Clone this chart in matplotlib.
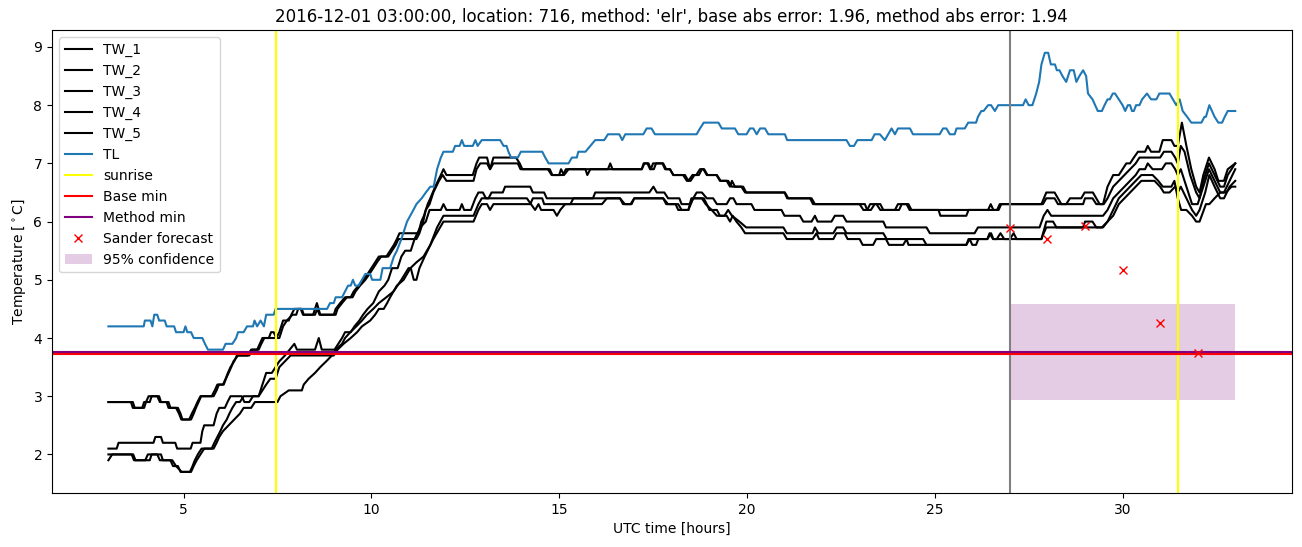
import numpy as np
import matplotlib
matplotlib.use("Agg")
import matplotlib.pyplot as plt

title = "2016-12-01 03:00:00, location: 716, method: 'elr', base abs error: 1.96, method abs error: 1.94"

# (hour, temperature) breakpoints
tw1 = [(3.0,2.9),(3.6,2.9),(3.65,2.8),(3.95,2.8),(4.0,2.9),(4.07,3.0),(4.3,3.0),(4.37,2.9),(4.55,2.9),(4.6,2.8),(4.85,2.8),(4.92,2.7),(4.97,2.6),(5.2,2.6),(5.27,2.7),(5.33,2.8),(5.4,2.9),(5.47,3.0),(5.8,3.0),(5.88,3.1),(5.94,3.2),(6.07,3.2),(6.13,3.3),(6.2,3.4),(6.27,3.5),(6.33,3.6),(6.45,3.7),(6.75,3.7),(6.83,3.8),(6.96,3.8),(7.03,3.9),(7.1,4.0),(7.27,4.0),(7.33,4.1),(7.4,4.1),(7.47,4.0),(7.55,4.1),(7.65,4.3),(7.8,4.3),(7.87,4.4),(7.95,4.5),(8.15,4.5),(8.2,4.4),(8.45,4.4),(8.55,4.6),(8.64,4.4),(9.0,4.4),(9.05,4.5),(9.17,4.6),(9.3,4.7),(9.45,4.7),(9.53,4.8),(9.66,4.9),(9.79,5.0),(9.9,5.1),(10.0,5.2),(10.1,5.3),(10.2,5.4),(10.4,5.4),(10.5,5.5),(10.6,5.6),(10.68,5.7),(10.75,5.8),(11.25,5.8),(11.33,6.0),(11.4,6.1),(11.5,6.3),(11.57,6.4),(11.7,6.6),(11.85,6.8),(11.92,6.9),(12.0,6.8),(12.7,6.8),(12.8,7.0),(12.87,7.1),(13.08,7.1),(13.16,6.9),(13.25,7.1),(13.85,7.1),(13.95,7.0),(14.02,6.9),(14.7,6.9),(14.8,6.8),(15.0,6.8),(15.05,6.9),(15.13,6.8),(15.25,6.9),(15.7,6.9),(15.75,6.8),(15.83,6.9),(16.3,6.9),(16.36,7.0),(16.42,6.9),(17.2,6.9),(17.27,7.0),(17.38,7.0),(17.44,6.9),(17.5,7.0),(17.77,7.0),(17.85,6.9),(17.95,6.9),(18.04,6.8),(18.35,6.8),(18.44,6.7),(18.55,6.8),(18.65,6.8),(18.75,6.9),(18.84,6.9),(18.93,6.8),(19.19,6.8),(19.28,6.7),(19.46,6.7),(19.55,6.6),(19.6,6.7),(19.68,6.6),(19.85,6.6),(19.95,6.5),(21.01,6.5),(21.1,6.4),(21.72,6.4),(21.81,6.3),(23.14,6.3),(23.2,6.2),(23.3,6.2),(23.4,6.3),(23.55,6.3),(23.63,6.2),(23.94,6.2),(24.02,6.3),(24.3,6.3),(24.38,6.2),(26.42,6.2),(26.49,6.3),(26.56,6.2),(26.66,6.2),(26.73,6.3),(27.84,6.3),(27.97,6.5),(28.19,6.5),(28.28,6.4),(28.37,6.3),(28.5,6.3),(28.6,6.4),(28.9,6.4),(28.99,6.5),(29.21,6.5),(29.3,6.4),(29.39,6.3),(29.48,6.3),(29.6,6.6),(29.75,6.8),(29.9,6.8),(30.0,6.9),(30.1,7.0),(30.2,7.0),(30.3,7.1),(30.41,7.2),(30.6,7.2),(30.67,7.3),(30.76,7.2),(30.98,7.2),(31.07,7.4),(31.3,7.4),(31.38,7.3),(31.47,7.3),(31.58,7.7),(31.7,7.3),(31.83,6.9),(31.96,6.6),(32.05,6.5),(32.15,6.8),(32.3,7.1),(32.45,6.9),(32.55,6.7),(32.7,6.7),(32.8,6.9),(33.0,7.0)]

tw2 = [(3.0,2.9),(3.65,2.9),(3.7,2.8),(3.9,2.8),(3.95,2.9),(4.1,2.9),(4.15,3.0),(4.35,3.0),(4.4,2.9),(4.6,2.9),(4.65,2.8),(4.8,2.8),(4.88,2.7),(4.94,2.6),(5.15,2.6),(5.22,2.7),(5.3,2.8),(5.37,2.9),(5.45,3.0),(5.75,3.0),(5.83,3.1),(5.9,3.2),(6.05,3.2),(6.12,3.3),(6.18,3.4),(6.25,3.5),(6.35,3.6),(6.42,3.7),(6.7,3.7),(6.8,3.8),(7.0,3.8),(7.07,3.9),(7.15,4.0),(7.55,4.0),(7.65,4.2),(7.75,4.3),(7.9,4.4),(8.0,4.4),(8.05,4.5),(8.12,4.5),(8.18,4.4),(8.5,4.4),(8.56,4.5),(8.62,4.4),(9.05,4.4),(9.1,4.5),(9.22,4.6),(9.35,4.7),(9.5,4.7),(9.58,4.8),(9.7,4.9),(9.84,5.0),(9.95,5.1),(10.05,5.2),(10.15,5.3),(10.26,5.4),(10.45,5.4),(10.55,5.5),(10.65,5.6),(10.72,5.7),(11.2,5.7),(11.28,5.8),(11.38,6.0),(11.45,6.2),(11.55,6.3),(11.65,6.5),(11.8,6.7),(11.9,6.8),(12.0,6.7),(12.72,6.7),(12.8,6.9),(12.9,7.0),(13.08,7.0),(13.16,6.9),(13.25,7.0),(13.9,7.0),(13.97,6.9),(14.75,6.9),(14.82,6.8),(15.1,6.8),(15.18,6.9),(17.2,6.9),(17.25,7.0),(17.35,7.0),(17.42,6.9),(17.52,6.9),(17.58,7.0),(17.75,7.0),(17.82,6.9),(17.95,6.9),(18.04,6.8),(18.3,6.8),(18.4,6.7),(18.5,6.7),(18.6,6.8),(18.72,6.8),(18.8,6.9),(18.86,6.9),(18.95,6.8),(19.2,6.8),(19.3,6.7),(19.5,6.7),(19.6,6.6),(19.9,6.6),(19.98,6.5),(21.0,6.5),(21.07,6.4),(21.68,6.4),(21.76,6.3),(23.0,6.3),(23.1,6.2),(23.2,6.2),(23.28,6.3),(23.45,6.3),(23.55,6.2),(24.05,6.2),(24.12,6.3),(24.25,6.3),(24.33,6.2),(25.1,6.2),(25.15,6.1),(25.84,6.1),(25.9,6.2),(26.7,6.2),(26.77,6.3),(27.88,6.3),(27.97,6.4),(28.19,6.4),(28.28,6.3),(28.95,6.3),(29.0,6.4),(29.2,6.4),(29.3,6.3),(29.5,6.3),(29.6,6.4),(29.75,6.6),(29.9,6.7),(30.05,6.8),(30.2,6.9),(30.35,7.0),(30.45,7.1),(31.0,7.1),(31.1,7.2),(31.3,7.2),(31.4,7.1),(31.47,7.0),(31.55,7.3),(31.65,7.2),(31.8,6.8),(31.96,6.5),(32.05,6.4),(32.15,6.7),(32.3,7.0),(32.45,6.8),(32.6,6.6),(32.7,6.6),(32.8,6.8),(33.0,7.0)]

tw3 = [(3.0,2.1),(3.22,2.1),(3.27,2.2),(4.2,2.2),(4.25,2.3),(4.4,2.3),(4.45,2.2),(4.78,2.2),(4.83,2.1),(5.19,2.1),(5.24,2.2),(5.45,2.2),(5.5,2.4),(5.55,2.5),(5.8,2.5),(5.88,2.7),(5.95,2.8),(6.1,2.8),(6.17,2.9),(6.25,3.0),(6.55,3.0),(6.62,2.9),(6.75,2.9),(6.85,3.0),(7.0,3.0),(7.1,3.2),(7.2,3.4),(7.35,3.4),(7.45,3.5),(7.55,3.6),(7.7,3.7),(7.95,3.9),(8.02,3.8),(8.5,3.8),(8.6,4.0),(8.68,3.8),(9.02,3.8),(9.12,3.9),(9.22,4.0),(9.3,4.1),(9.45,4.1),(9.55,4.2),(9.68,4.3),(9.78,4.4),(9.9,4.5),(10.05,4.6),(10.2,4.8),(10.35,4.9),(10.45,5.0),(10.55,5.2),(10.7,5.2),(10.8,5.4),(10.9,5.5),(11.05,5.5),(11.15,5.7),(11.3,5.9),(11.45,6.0),(11.55,6.2),(11.85,6.2),(11.92,6.3),(12.0,6.2),(12.35,6.2),(12.41,6.3),(12.47,6.2),(12.65,6.2),(12.77,6.4),(12.85,6.5),(12.97,6.5),(13.05,6.4),(13.12,6.4),(13.2,6.5),(13.5,6.5),(13.56,6.6),(14.23,6.6),(14.3,6.5),(14.6,6.5),(14.67,6.4),(15.9,6.4),(15.96,6.5),(17.4,6.5),(17.51,6.6),(17.6,6.5),(17.8,6.5),(17.9,6.4),(18.2,6.4),(18.26,6.3),(18.48,6.3),(18.57,6.4),(18.66,6.5),(18.8,6.5),(18.93,6.4),(19.1,6.4),(19.2,6.3),(19.46,6.3),(19.55,6.4),(19.64,6.4),(19.72,6.3),(20.12,6.3),(20.2,6.2),(20.92,6.2),(21.0,6.1),(21.41,6.1),(21.5,6.0),(21.72,6.0),(21.81,6.1),(21.88,6.0),(22.25,6.0),(22.34,6.1),(22.56,6.1),(22.65,6.0),(23.63,6.0),(23.7,5.9),(24.78,5.9),(24.87,5.8),(26.06,5.8),(26.15,5.9),(27.79,5.9),(27.9,6.1),(28.0,6.2),(28.1,6.1),(29.48,6.1),(29.6,6.2),(29.75,6.4),(29.9,6.5),(30.05,6.6),(30.2,6.7),(30.35,6.8),(30.45,6.9),(30.6,6.9),(30.67,7.0),(30.8,6.9),(31.05,6.9),(31.15,7.0),(31.3,7.0),(31.4,6.9),(31.47,6.8),(31.55,6.9),(31.7,6.6),(31.85,6.3),(32.0,6.3),(32.1,6.5),(32.3,6.9),(32.45,6.7),(32.6,6.5),(32.7,6.5),(32.85,6.7),(33.0,6.9)]

tw4 = [(3.0,2.0),(3.66,2.0),(3.72,1.9),(3.98,1.9),(4.05,2.0),(4.3,2.0),(4.37,1.9),(4.65,1.9),(4.72,1.8),(4.85,1.8),(4.92,1.7),(5.17,1.7),(5.24,1.8),(5.3,1.9),(5.38,2.0),(5.48,2.1),(5.75,2.1),(5.82,2.2),(5.9,2.3),(5.98,2.4),(6.05,2.5),(6.15,2.6),(6.22,2.7),(6.3,2.8),(6.4,2.9),(6.5,2.9),(6.6,3.0),(7.0,3.0),(7.1,3.1),(7.2,3.2),(7.31,3.3),(7.45,3.3),(7.55,3.5),(7.7,3.6),(7.85,3.7),(9.0,3.7),(9.1,3.8),(9.26,3.9),(9.45,4.0),(9.62,4.1),(9.75,4.2),(9.97,4.3),(10.1,4.4),(10.2,4.5),(10.33,4.5),(10.42,4.6),(10.5,4.7),(10.68,4.9),(10.86,5.0),(11.04,5.2),(11.2,5.3),(11.39,5.4),(11.57,5.6),(11.75,5.9),(11.92,6.1),(12.72,6.1),(12.85,6.3),(12.94,6.4),(14.14,6.4),(14.25,6.3),(14.36,6.2),(14.45,6.3),(14.52,6.2),(14.85,6.2),(14.94,6.1),(15.03,6.2),(15.16,6.3),(16.14,6.3),(16.27,6.4),(16.62,6.4),(16.7,6.3),(16.9,6.3),(17.0,6.4),(17.77,6.4),(17.85,6.3),(18.17,6.3),(18.26,6.2),(18.44,6.2),(18.52,6.4),(18.85,6.4),(18.93,6.3),(19.0,6.2),(19.2,6.2),(19.28,6.1),(19.46,6.1),(19.55,6.0),(19.62,6.1),(19.72,6.0),(19.85,5.9),(19.95,5.8),(20.97,5.8),(21.06,5.7),(21.75,5.7),(21.85,5.8),(21.92,5.7),(22.3,5.7),(22.38,5.8),(22.6,5.8),(22.68,5.7),(23.0,5.7),(23.08,5.6),(23.36,5.6),(23.44,5.7),(23.7,5.7),(23.78,5.6),(24.16,5.6),(24.25,5.7),(24.3,5.6),(25.84,5.6),(25.93,5.7),(26.0,5.6),(26.1,5.6),(26.16,5.7),(26.4,5.7),(26.5,5.8),(26.56,5.7),(26.65,5.7),(26.75,5.8),(26.85,5.7),(27.0,5.7),(27.1,5.8),(27.18,5.7),(27.84,5.7),(27.9,5.8),(27.97,5.9),(29.45,5.9),(29.6,6.0),(29.75,6.2),(29.9,6.4),(30.05,6.5),(30.2,6.6),(30.35,6.7),(30.5,6.8),(30.8,6.8),(30.95,6.7),(31.07,6.6),(31.3,6.6),(31.38,6.7),(31.47,6.4),(31.56,6.2),(31.7,6.2),(31.85,6.1),(31.96,6.0),(32.05,6.0),(32.22,6.3),(32.31,6.3),(32.45,6.4),(32.6,6.5),(32.75,6.5),(32.9,6.6),(33.0,6.6)]

tw5 = [(3.0,1.9),(3.1,2.0),(3.62,2.0),(3.68,1.9),(4.1,1.9),(4.15,2.0),(4.4,2.0),(4.45,1.9),(4.7,1.9),(4.8,1.8),(4.95,1.7),(5.2,1.7),(5.27,1.8),(5.35,1.9),(5.45,2.0),(5.55,2.1),(5.8,2.1),(5.88,2.2),(5.95,2.3),(6.05,2.4),(6.2,2.5),(6.35,2.6),(6.5,2.7),(6.6,2.8),(6.8,2.8),(6.9,2.9),(7.5,2.9),(7.58,3.0),(7.8,3.1),(8.15,3.1),(8.2,3.2),(8.33,3.3),(8.5,3.4),(8.64,3.5),(8.8,3.6),(8.95,3.7),(9.05,3.8),(9.22,3.9),(9.3,4.0),(9.44,4.1),(9.6,4.2),(9.75,4.3),(9.88,4.4),(10.05,4.5),(10.2,4.6),(10.4,4.7),(10.59,4.8),(10.8,5.0),(10.99,5.2),(11.05,5.2),(11.13,5.0),(11.2,5.0),(11.28,5.2),(11.42,5.4),(11.65,5.7),(11.83,5.9),(11.92,6.0),(12.72,6.0),(12.85,6.2),(12.94,6.3),(13.08,6.3),(13.16,6.2),(13.25,6.3),(14.23,6.3),(14.3,6.4),(14.55,6.4),(14.6,6.3),(15.3,6.3),(15.38,6.4),(16.62,6.4),(16.75,6.3),(16.93,6.3),(17.0,6.4),(17.77,6.4),(17.9,6.3),(18.1,6.3),(18.17,6.2),(18.44,6.2),(18.57,6.4),(18.8,6.4),(18.9,6.3),(19.06,6.2),(19.2,6.1),(19.4,6.1),(19.5,6.2),(19.6,6.1),(19.8,6.0),(19.98,5.9),(20.97,5.9),(21.06,5.8),(21.75,5.8),(21.81,5.9),(21.9,5.8),(22.3,5.8),(22.39,5.9),(22.56,5.9),(22.65,5.8),(23.63,5.8),(23.72,5.7),(24.69,5.7),(24.78,5.6),(25.84,5.6),(25.9,5.7),(26.4,5.7),(26.46,5.8),(26.55,5.7),(27.84,5.7),(27.97,6.0),(28.15,6.0),(28.24,5.9),(28.95,5.9),(29.0,6.0),(29.2,6.0),(29.3,5.9),(29.48,5.9),(29.6,6.0),(29.75,6.1),(29.9,6.3),(30.05,6.4),(30.2,6.5),(30.35,6.6),(30.5,6.7),(30.85,6.7),(31.0,6.6),(31.1,6.5),(31.25,6.5),(31.4,6.6),(31.47,6.5),(31.55,6.6),(31.7,6.4),(31.85,6.2),(31.96,6.1),(32.05,6.2),(32.2,6.5),(32.31,6.8),(32.45,6.6),(32.6,6.4),(32.7,6.4),(32.85,6.6),(33.0,6.7)]

tl = [(3.0,4.2),(3.94,4.2),(3.97,4.3),(4.12,4.3),(4.17,4.2),(4.22,4.4),(4.3,4.4),(4.35,4.3),(4.5,4.3),(4.55,4.2),(4.75,4.2),(4.8,4.1),(5.0,4.1),(5.05,4.2),(5.1,4.1),(5.2,4.1),(5.27,4.0),(5.5,4.0),(5.57,3.9),(5.65,3.8),(6.05,3.8),(6.12,3.9),(6.3,3.9),(6.4,4.0),(6.45,4.1),(6.6,4.1),(6.69,4.2),(6.85,4.2),(6.89,4.3),(6.96,4.2),(7.05,4.3),(7.14,4.2),(7.2,4.4),(7.3,4.4),(7.4,4.4),(7.45,4.5),(8.82,4.5),(8.9,4.6),(9.0,4.6),(9.05,4.7),(9.22,4.7),(9.3,4.8),(9.38,4.9),(9.45,4.9),(9.51,5.0),(9.57,4.9),(9.66,4.9),(9.75,5.0),(9.84,5.1),(9.97,5.1),(10.02,5.0),(10.24,5.0),(10.3,5.2),(10.5,5.2),(10.6,5.4),(10.68,5.5),(10.8,5.7),(10.95,6.0),(11.12,6.2),(11.2,6.3),(11.34,6.4),(11.45,6.5),(11.57,6.6),(11.66,6.6),(11.75,6.9),(11.85,7.1),(11.92,7.2),(12.17,7.2),(12.23,7.3),(12.35,7.3),(12.41,7.4),(12.47,7.3),(12.7,7.3),(12.77,7.4),(12.83,7.3),(12.94,7.4),(13.43,7.4),(13.52,7.3),(13.6,7.3),(13.65,7.2),(13.72,7.1),(13.9,7.1),(13.98,7.2),(14.55,7.2),(14.63,7.1),(14.72,7.0),(15.25,7.0),(15.34,7.1),(15.47,7.1),(15.51,7.2),(15.7,7.2),(15.83,7.3),(15.96,7.4),(16.2,7.4),(16.3,7.5),(16.6,7.5),(16.68,7.4),(16.76,7.5),(17.24,7.5),(17.33,7.6),(17.46,7.6),(17.55,7.5),(18.66,7.5),(18.75,7.6),(18.85,7.7),(19.24,7.7),(19.33,7.6),(19.68,7.6),(19.77,7.5),(19.99,7.5),(20.08,7.6),(20.17,7.6),(20.26,7.5),(20.35,7.6),(20.48,7.6),(20.57,7.5),(21.01,7.5),(21.07,7.4),(22.65,7.4),(22.74,7.3),(22.85,7.3),(22.94,7.4),(23.32,7.4),(23.4,7.5),(23.54,7.5),(23.67,7.4),(23.76,7.5),(23.85,7.6),(23.94,7.5),(24.02,7.6),(24.34,7.6),(24.42,7.5),(25.13,7.5),(25.22,7.6),(25.31,7.6),(25.4,7.5),(25.53,7.5),(25.58,7.6),(25.8,7.6),(25.89,7.7),(26.1,7.7),(26.15,7.8),(26.24,7.9),(26.3,7.9),(26.42,8.0),(26.5,8.0),(26.6,7.9),(26.69,8.0),(27.35,8.0),(27.42,8.1),(27.5,8.0),(27.6,8.0),(27.7,8.2),(27.78,8.4),(27.84,8.7),(27.93,8.9),(28.02,8.9),(28.09,8.7),(28.2,8.7),(28.25,8.6),(28.32,8.6),(28.4,8.5),(28.5,8.4),(28.6,8.6),(28.7,8.6),(28.77,8.4),(28.85,8.5),(28.95,8.6),(29.03,8.5),(29.08,8.2),(29.2,8.1),(29.34,7.9),(29.45,7.9),(29.52,8.0),(29.6,8.1),(29.66,8.1),(29.74,8.2),(29.8,8.2),(29.9,8.1),(30.0,8.0),(30.07,7.9),(30.14,8.0),(30.2,8.0),(30.25,7.9),(30.3,7.9),(30.36,8.0),(30.45,8.0),(30.52,8.1),(30.65,8.2),(30.76,8.1),(30.9,8.1),(30.98,8.2),(31.25,8.2),(31.34,8.1),(31.43,8.0),(31.52,8.1),(31.6,7.9),(31.72,7.8),(31.83,7.7),(32.1,7.7),(32.18,7.8),(32.22,7.8),(32.31,8.0),(32.45,7.8),(32.55,7.7),(32.65,7.7),(32.72,7.8),(32.8,7.9),(33.0,7.9)]

sunrise_hours = [7.47, 31.47]
forecast_start = 27.0
base_min = 3.725
method_min = 3.76
sander_hours = [27, 28, 29, 30, 31, 32]
sander_temp = [5.89, 5.70, 5.93, 5.16, 4.25, 3.74]
conf_hours = [27, 33]
conf_low = 2.93
conf_high = 4.58

fig = plt.figure(figsize=(13.02, 5.47), dpi=100)
ax = fig.add_subplot(111)
fig.subplots_adjust(left=0.040, right=0.992, top=0.945, bottom=0.099)

for name, pts in [("TW_1", tw1), ("TW_2", tw2), ("TW_3", tw3), ("TW_4", tw4), ("TW_5", tw5)]:
    a = np.array(pts)
    ax.plot(a[:, 0], a[:, 1], color="black", label=name)
a = np.array(tl)
ax.plot(a[:, 0], a[:, 1], color="#1f77b4", label="TL")

ax.axvline(sunrise_hours[0], color="yellow", label="sunrise")
ax.axvline(sunrise_hours[1], color="yellow")
ax.axvline(forecast_start, color="gray")
ax.axhline(base_min, color="red", label="Base min")
ax.axhline(method_min, color="purple", label="Method min")
ax.plot(sander_hours, sander_temp, "x", color="red", label="Sander forecast")
ax.fill_between(conf_hours, [conf_low] * 2, [conf_high] * 2, color="purple", alpha=0.2,
                linewidth=0, label="95% confidence")

ax.set_xlim(1.5, 34.5)
ax.set_ylim(1.34, 9.29)
ax.set_title(title)
ax.set_xlabel("UTC time [hours]")
ax.set_ylabel(r"Temperature [$^\circ$C]")
ax.legend(loc="upper left")

fig.savefig("out.png", dpi=100)
